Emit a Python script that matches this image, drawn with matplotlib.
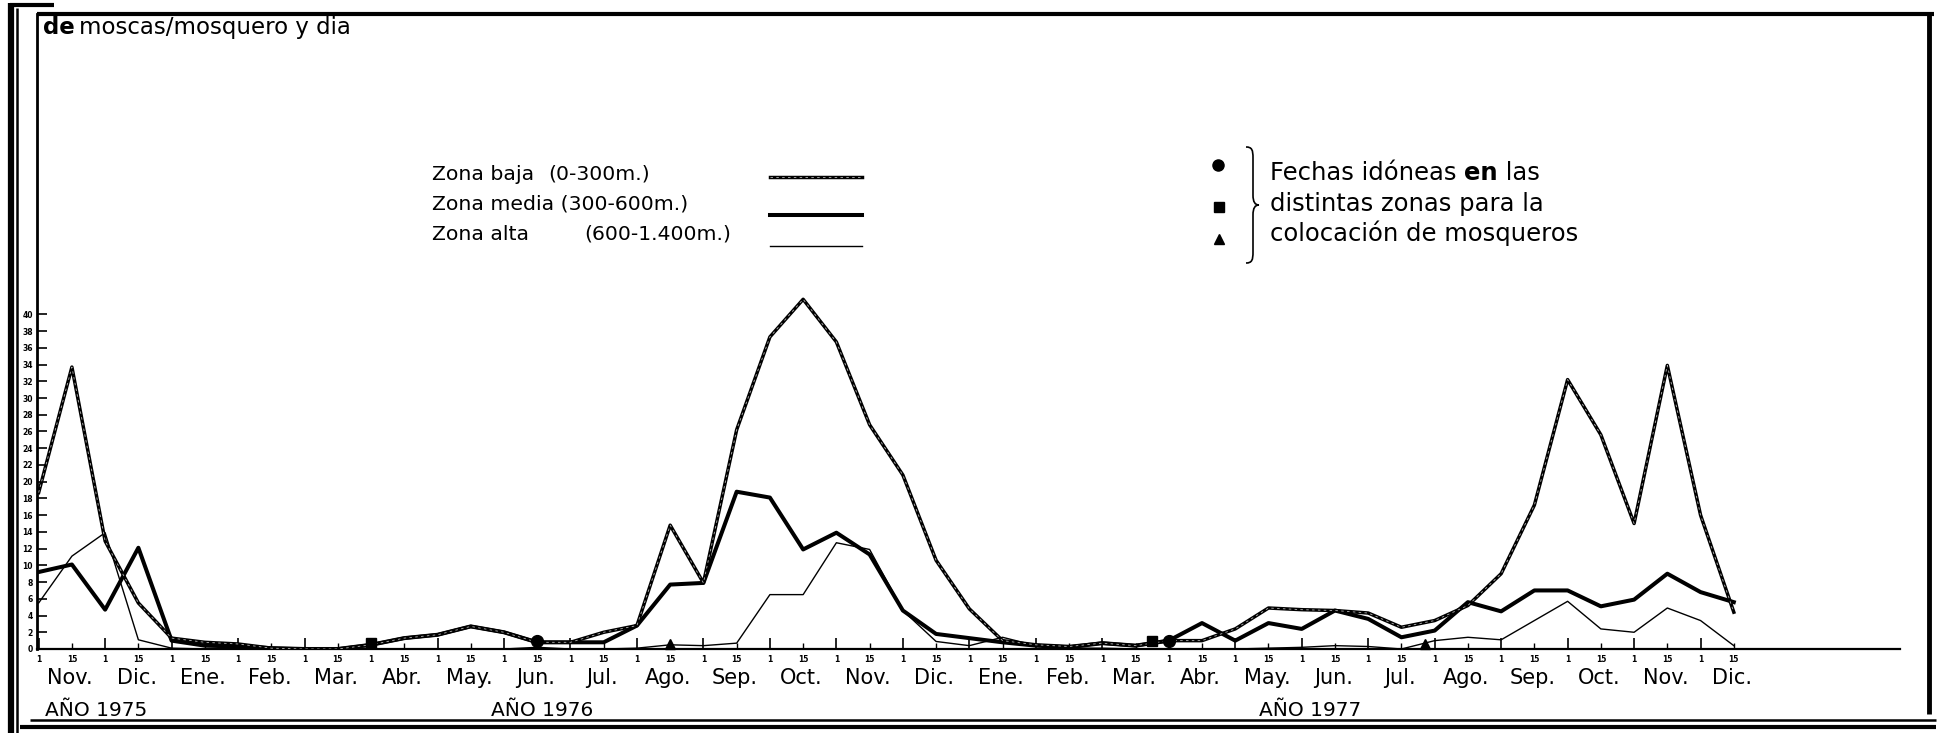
import matplotlib.pyplot as plt
from matplotlib.lines import Line2D
from matplotlib.path import Path
from matplotlib.patches import PathPatch
import matplotlib.transforms as mtransforms
import numpy as np

W, H = 1940, 733

# meses (quincenas 1 y 15), de Nov. 1975 a Dic. 1977
meses = ["Nov.", "Dic.",
         "Ene.", "Feb.", "Mar.", "Abr.", "May.", "Jun.", "Jul.", "Ago.", "Sep.", "Oct.", "Nov.", "Dic.",
         "Ene.", "Feb.", "Mar.", "Abr.", "May.", "Jun.", "Jul.", "Ago.", "Sep.", "Oct.", "Nov.", "Dic."]
quincenas = ["1", "15"] * len(meses)
anos = ["AÑO 1975", "AÑO 1976", "AÑO 1977"]

# nº de moscas/mosquero y dia
zona_baja = [18.7, 33.7, 12.9, 5.5, 1.3, 0.8, 0.6, 0.1, 0.0, 0.0, 0.5, 1.3, 1.7, 2.7, 2.0, 0.8,
             0.8, 2.0, 2.8, 14.8, 7.9, 26.2, 37.3, 41.8, 36.7, 26.8, 20.8, 10.6, 4.8, 1.0, 0.5, 0.3,
             0.7, 0.4, 1.0, 1.0, 2.4, 4.9, 4.7, 4.6, 4.3, 2.6, 3.4, 5.2, 9.0, 17.2, 32.2, 25.6,
             15.0, 33.9, 16.0, 4.4]
zona_media = [9.2, 10.1, 4.7, 12.1, 1.0, 0.4, 0.3, 0.1, 0.0, 0.0, 0.5, 1.3, 1.7, 2.7, 2.0, 0.8,
              0.8, 0.8, 2.8, 7.7, 7.9, 18.8, 18.1, 11.9, 13.9, 11.3, 4.6, 1.8, 1.3, 0.8, 0.4, 0.2,
              0.7, 0.4, 1.0, 3.1, 1.0, 3.1, 2.4, 4.6, 3.6, 1.4, 2.2, 5.6, 4.5, 7.0, 7.0, 5.1,
              5.9, 9.0, 6.8, 5.6]
zona_alta = [5.5, 11.1, 13.9, 1.1, 0.1, 0.0, 0.0, 0.0, 0.0, 0.0, 0.0, 0.0, 0.0, 0.0, 0.0, 0.2,
             0.0, 0.0, 0.1, 0.5, 0.4, 0.7, 6.5, 6.5, 12.7, 11.9, 4.6, 0.9, 0.4, 1.4, 0.4, 0.1,
             0.1, 0.0, 0.0, 0.0, 0.0, 0.1, 0.2, 0.4, 0.3, 0.0, 1.0, 1.4, 1.1, 3.4, 5.7, 2.4,
             2.0, 4.9, 3.4, 0.4]

# fechas idoneas (indice de quincena, valor)
circulo_x = [15, 34.0]
circulo_y = [0.9, 0.9]
cuadrado_x = [10, 33.5]
cuadrado_y = [0.7, 1.0]
triangulo_x = [19, 41.7]
triangulo_y = [0.6, 0.6]


def fx(x):
    return x / W


def fy(y):
    return 1 - y / H


plt.rcParams['font.family'] = ['DejaVu Sans']

fig = plt.figure(figsize=(19.4, 7.33), dpi=100)
ax = fig.add_axes([fx(37), fy(649), fx(1900) - fx(37), fy(14) - fy(649)])

x = np.arange(len(zona_baja))

# curvas
ax.plot(x, zona_alta, color="black", lw=1.0, zorder=3)
ax.plot(x, zona_media, color="black", lw=2.9, zorder=4)
ax.plot(x, zona_baja, color="black", lw=2.5, zorder=5)
ax.plot(x, zona_baja, color="white", lw=0.6, dashes=(3, 4), alpha=0.7, zorder=6)

ax.plot(circulo_x, circulo_y, "o", color="black", ms=8.5, zorder=7, clip_on=False)
ax.plot(cuadrado_x, cuadrado_y, "s", color="black", ms=7.5, zorder=7, clip_on=False)
ax.plot(triangulo_x, triangulo_y, "^", color="black", ms=7, zorder=7, clip_on=False)

ax.set_xlim(-0.05, 56)
ax.set_ylim(0, 75.9)

for s in ["top", "right"]:
    ax.spines[s].set_visible(False)
ax.spines["left"].set_linewidth(2.0)
ax.spines["bottom"].set_linewidth(1.6)

# ejes
ax.set_yticks(np.arange(0, 41, 2))
ax.set_yticklabels([str(v) for v in range(0, 41, 2)], fontsize=5.5, fontweight="bold")
ax.tick_params(axis="y", direction="in", length=7, width=1.2, pad=3)

ax.set_xticks(x[::2])
ax.set_xticklabels(quincenas[::2], fontsize=5.5, fontweight="bold")
ax.set_xticks(x[1::2], quincenas[1::2], minor=True, fontsize=5.5, fontweight="bold")
ax.tick_params(axis="x", which="major", direction="in", length=8, width=1.2, pad=4)
ax.tick_params(axis="x", which="minor", direction="in", length=4, width=1.0, pad=4)

trans = mtransforms.blended_transform_factory(ax.transData, fig.transFigure)
for m, nombre in enumerate(meses):
    ax.text(2 * m + 0.95, fy(678), nombre, transform=trans, ha="center", va="center",
            fontsize=15, clip_on=False)
for pos, txt in zip([0.2, 13.6, 36.7], anos):
    ax.text(pos, fy(716), txt, transform=trans, ha="left", va="baseline",
            fontsize=14.5, clip_on=False)

# marco
def linea(x0, y0, x1, y1, lw):
    fig.add_artist(Line2D([fx(x0), fx(x1)], [fy(y0), fy(y1)], color="black", lw=lw,
                          solid_capstyle="butt"))

linea(37, 14, 1934, 14, 3.0)
linea(10, 5, 54, 5, 3.0)
linea(11, 3, 11, 733, 4.5)
linea(17.5, 8, 17.5, 733, 1.8)
linea(1929, 12, 1929, 714, 3.5)
linea(30, 720, 1936, 720, 1.8)
linea(20, 727, 1936, 727, 3.0)

# titulo
fig.canvas.draw()
r = fig.canvas.get_renderer()
t = fig.text(fx(43), fy(34), "de", fontsize=16.5, fontweight="bold", va="baseline")
bb = t.get_window_extent(r)
fig.text(bb.x1 / W + fx(4), fy(34), "moscas/mosquero y dia", fontsize=16.5, va="baseline")

# leyenda de zonas
fs = 14.7
fig.text(fx(432), fy(180), "Zona baja", fontsize=fs, va="baseline")
fig.text(fx(548), fy(180), "(0-300m.)", fontsize=fs, va="baseline")
fig.text(fx(432), fy(210), "Zona media (300-600m.)", fontsize=fs, va="baseline")
fig.text(fx(432), fy(240), "Zona alta", fontsize=fs, va="baseline")
fig.text(fx(584), fy(240), "(600-1.400m.)", fontsize=fs, va="baseline")
fig.add_artist(Line2D([fx(770), fx(862)], [fy(177), fy(177)], color="black", lw=2.5))
fig.add_artist(Line2D([fx(770), fx(862)], [fy(177), fy(177)], color="white", lw=0.6,
                      dashes=(3, 4), alpha=0.7))
fig.add_artist(Line2D([fx(770), fx(862)], [fy(215), fy(215)], color="black", lw=2.9))
fig.add_artist(Line2D([fx(770), fx(862)], [fy(246), fy(246)], color="black", lw=1.0))

# leyenda de fechas
fig.add_artist(Line2D([fx(1218)], [fy(165)], marker="o", color="black", ms=8))
fig.add_artist(Line2D([fx(1219)], [fy(207)], marker="s", color="black", ms=7))
fig.add_artist(Line2D([fx(1219)], [fy(239)], marker="^", color="black", ms=6.5))

pts = [(1246, 147), (1252, 147), (1253, 150), (1253, 158), (1253, 195),
       (1253, 202), (1255, 205), (1259, 205), (1255, 205), (1253, 208), (1253, 215),
       (1253, 252), (1253, 260), (1252, 263), (1246, 263)]
codes = [Path.MOVETO, Path.CURVE4, Path.CURVE4, Path.CURVE4, Path.LINETO,
         Path.CURVE4, Path.CURVE4, Path.CURVE4, Path.CURVE4, Path.CURVE4, Path.CURVE4,
         Path.LINETO, Path.CURVE4, Path.CURVE4, Path.CURVE4]
llave = Path([(fx(a), fy(b)) for a, b in pts], codes)
fig.add_artist(PathPatch(llave, facecolor="none", edgecolor="black", lw=1.2,
                         transform=fig.transFigure))

fs2 = 17.5
t = fig.text(fx(1270), fy(180), "Fechas idóneas ", fontsize=fs2, va="baseline")
bb = t.get_window_extent(r)
t = fig.text(bb.x1 / W, fy(180), "en", fontsize=fs2, fontweight="bold", va="baseline")
bb = t.get_window_extent(r)
fig.text(bb.x1 / W, fy(180), " las", fontsize=fs2, va="baseline")
fig.text(fx(1270), fy(211), "distintas zonas para la", fontsize=fs2, va="baseline")
fig.text(fx(1270), fy(241), "colocación de mosqueros", fontsize=fs2, va="baseline")

fig.savefig("out.png", dpi=100)
